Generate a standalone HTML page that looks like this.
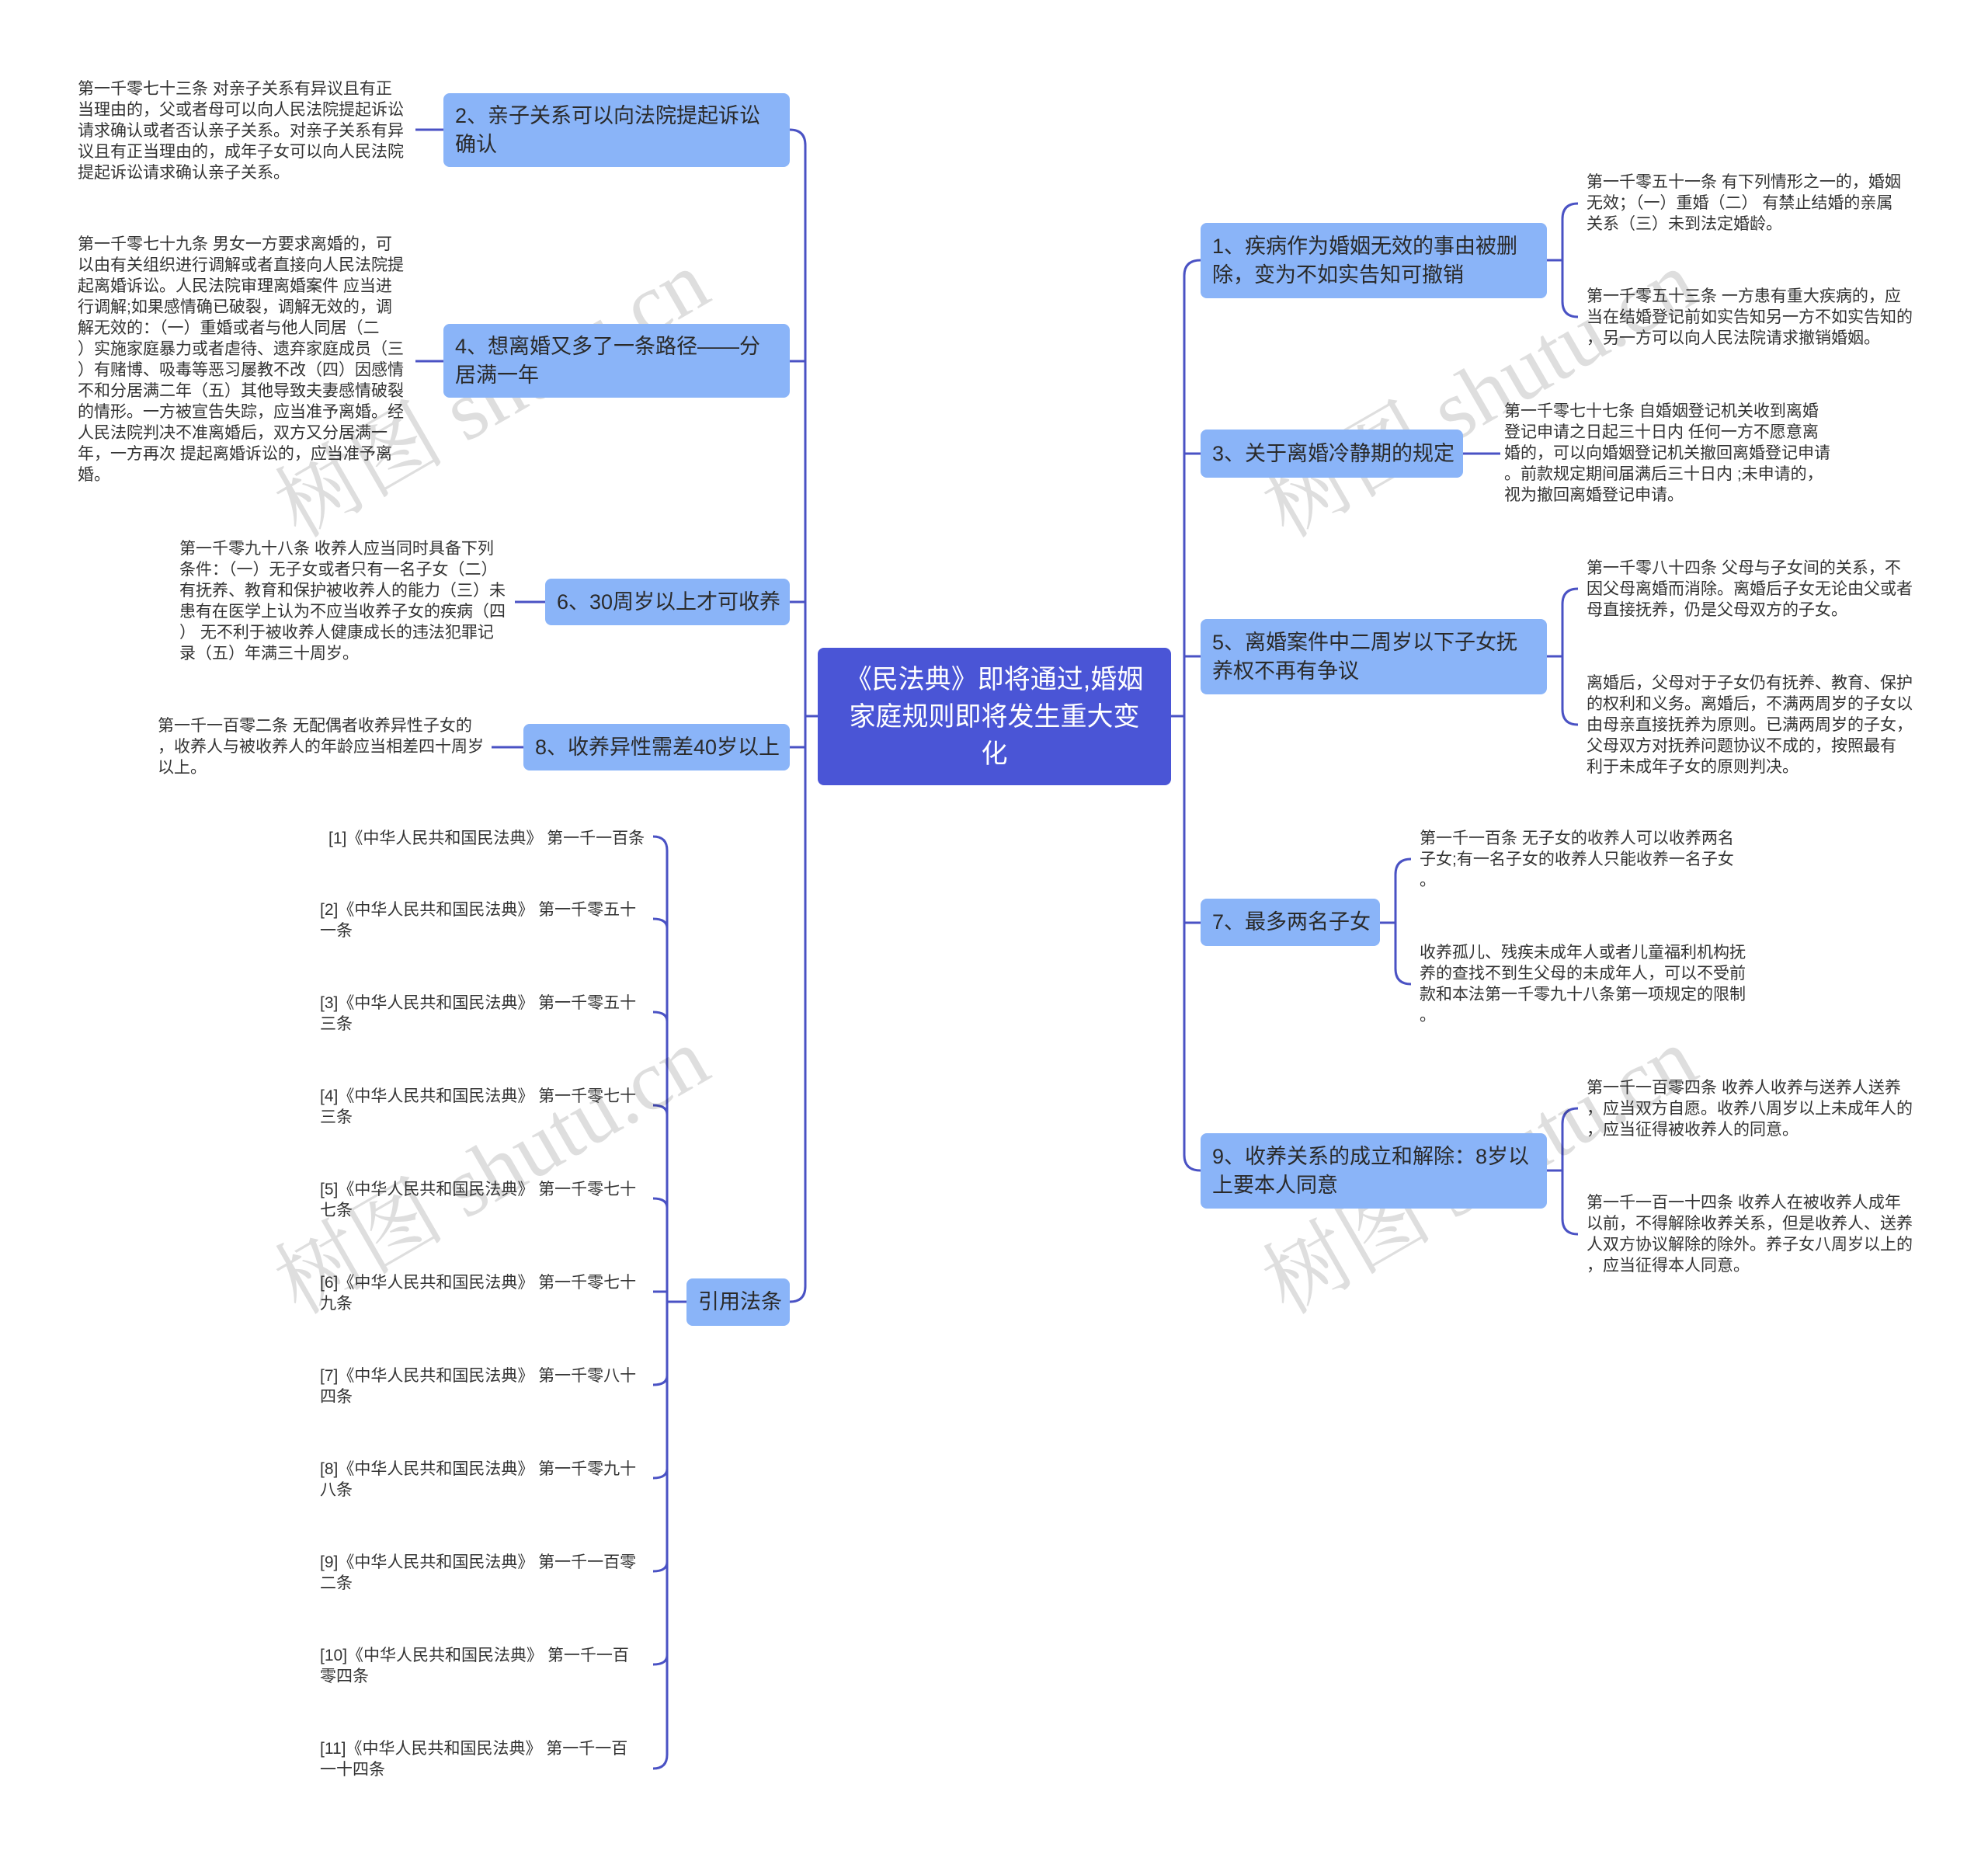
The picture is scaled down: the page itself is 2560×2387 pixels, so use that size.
<!DOCTYPE html>
<html style="overflow:hidden;width:2560px;height:2387px"><head><meta charset="utf-8">
<style>
*{margin:0;padding:0;box-sizing:border-box}
body{width:2560px;height:2387px;background:#fff;overflow:hidden;font-family:"Liberation Sans","Noto Sans CJK SC",sans-serif;color:#2b2b2b}
#w{position:relative;width:2560px;height:2387px;overflow:hidden}
.n{position:absolute;background:#8ab4f8;border-radius:8px;font-size:27px;line-height:37px;padding:0 15px;display:flex;align-items:center;white-space:nowrap;color:#2a2a2a}
.c{position:absolute;background:#4a55d6;border-radius:8px;color:#fff;font-size:34px;line-height:48px;text-align:center;display:flex;align-items:center;justify-content:center}
.l{position:absolute;font-size:21px;line-height:27px;white-space:nowrap;color:#333}
.r{position:absolute;font-size:21px;line-height:27px;white-space:nowrap;color:#333;left:412px}
.wm{position:absolute;font-family:"Liberation Serif","Noto Serif CJK SC",serif;font-size:110px;color:rgba(0,0,0,0.13);transform:rotate(-30deg);white-space:nowrap}
</style></head><body><div id="w">
<svg width="2560" height="2387" style="position:absolute;left:0;top:0" fill="none" stroke="#4a52c4" stroke-width="3">
<path d="M1053,922 H1037"/>
<path d="M1017,167 Q1037,167 1037,187 V1656 Q1037,1676 1017,1676"/>
<path d="M1017,465 H1037 M1017,775 H1037 M1017,962 H1037"/>
<path d="M1508,922 H1525"/>
<path d="M1546,335 Q1525,335 1525,355 V1487 Q1525,1507 1546,1507"/>
<path d="M1525,584 H1546 M1525,845 H1546 M1525,1188 H1546"/>
<path d="M535,167 H571 M535,465 H571 M663,775 H702 M633,962 H674"/>
<path d="M1884,584 H1932"/>
<path d="M1992,335 H2012 M2032,262 Q2012,262 2012,282 V388 Q2012,408 2032,408"/>
<path d="M1992,845 H2012 M2032,758 Q2012,758 2012,778 V913 Q2012,933 2032,933"/>
<path d="M1777,1188 H1797 M1817,1106 Q1797,1106 1797,1126 V1247 Q1797,1267 1817,1267"/>
<path d="M1992,1507 H2012 M2032,1427 Q2012,1427 2012,1447 V1569 Q2012,1589 2032,1589"/>
<path d="M884,1676 H859"/>
<path d="M841,1077 Q859,1077 859,1095 V2259 Q859,2277 841,2277"/>
<path d="M841,1183 Q859,1183 859,1195 M841,1303 Q859,1303 859,1315 M841,1423 Q859,1423 859,1435 M841,1543 Q859,1543 859,1555 M841,1663 H859 M841,1783 Q859,1783 859,1771 M841,1903 Q859,1903 859,1891 M841,2023 Q859,2023 859,2011 M841,2143 Q859,2143 859,2131"/>
</svg>

<div class="wm" style="left:320px;top:420px">树图 shutu.cn</div>
<div class="wm" style="left:320px;top:1420px">树图 shutu.cn</div>
<div class="wm" style="left:1592px;top:420px">树图 shutu.cn</div>
<div class="wm" style="left:1592px;top:1420px">树图 shutu.cn</div>

<div class="c" style="left:1053px;top:834px;width:455px;height:177px">《民法典》即将通过,婚姻<br>家庭规则即将发生重大变<br>化</div>

<div class="n" style="left:571px;top:120px;width:446px;height:95px">2、亲子关系可以向法院提起诉讼<br>确认</div>
<div class="n" style="left:571px;top:417px;width:446px;height:95px">4、想离婚又多了一条路径——分<br>居满一年</div>
<div class="n" style="left:702px;top:745px;width:315px;height:60px">6、30周岁以上才可收养</div>
<div class="n" style="left:674px;top:932px;width:343px;height:60px">8、收养异性需差40岁以上</div>
<div class="n" style="left:884px;top:1646px;width:133px;height:61px">引用法条</div>

<div class="n" style="left:1546px;top:287px;width:446px;height:97px">1、疾病作为婚姻无效的事由被删<br>除，变为不如实告知可撤销</div>
<div class="n" style="left:1546px;top:553px;width:338px;height:62px">3、关于离婚冷静期的规定</div>
<div class="n" style="left:1546px;top:797px;width:446px;height:97px">5、离婚案件中二周岁以下子女抚<br>养权不再有争议</div>
<div class="n" style="left:1546px;top:1157px;width:231px;height:61px">7、最多两名子女</div>
<div class="n" style="left:1546px;top:1459px;width:446px;height:97px">9、收养关系的成立和解除：8岁以<br>上要本人同意</div>

<div class="l" style="left:100px;top:101px">第一千零七十三条 对亲子关系有异议且有正<br>当理由的，父或者母可以向人民法院提起诉讼<br>请求确认或者否认亲子关系。对亲子关系有异<br>议且有正当理由的，成年子女可以向人民法院<br>提起诉讼请求确认亲子关系。</div>
<div class="l" style="left:100px;top:301px">第一千零七十九条 男女一方要求离婚的，可<br>以由有关组织进行调解或者直接向人民法院提<br>起离婚诉讼。人民法院审理离婚案件 应当进<br>行调解;如果感情确已破裂，调解无效的，调<br>解无效的：（一）重婚或者与他人同居（二<br>）实施家庭暴力或者虐待、遗弃家庭成员（三<br>）有赌博、吸毒等恶习屡教不改（四）因感情<br>不和分居满二年（五）其他导致夫妻感情破裂<br>的情形。一方被宣告失踪，应当准予离婚。经<br>人民法院判决不准离婚后，双方又分居满一<br>年，一方再次 提起离婚诉讼的，应当准予离<br>婚。</div>
<div class="l" style="left:231px;top:693px">第一千零九十八条 收养人应当同时具备下列<br>条件：（一）无子女或者只有一名子女（二）<br>有抚养、教育和保护被收养人的能力（三）未<br>患有在医学上认为不应当收养子女的疾病（四<br>） 无不利于被收养人健康成长的违法犯罪记<br>录（五）年满三十周岁。</div>
<div class="l" style="left:203px;top:921px">第一千一百零二条 无配偶者收养异性子女的<br>，收养人与被收养人的年龄应当相差四十周岁<br>以上。</div>

<div class="l" style="left:2043px;top:221px">第一千零五十一条 有下列情形之一的，婚姻<br>无效；（一）重婚（二） 有禁止结婚的亲属<br>关系（三）未到法定婚龄。</div>
<div class="l" style="left:2043px;top:368px">第一千零五十三条 一方患有重大疾病的，应<br>当在结婚登记前如实告知另一方不如实告知的<br>，另一方可以向人民法院请求撤销婚姻。</div>
<div class="l" style="left:1937px;top:516px">第一千零七十七条 自婚姻登记机关收到离婚<br>登记申请之日起三十日内 任何一方不愿意离<br>婚的，可以向婚姻登记机关撤回离婚登记申请<br>。前款规定期间届满后三十日内 ;未申请的，<br>视为撤回离婚登记申请。</div>
<div class="l" style="left:2043px;top:718px">第一千零八十四条 父母与子女间的关系，不<br>因父母离婚而消除。离婚后子女无论由父或者<br>母直接抚养，仍是父母双方的子女。</div>
<div class="l" style="left:2043px;top:866px">离婚后，父母对于子女仍有抚养、教育、保护<br>的权利和义务。离婚后，不满两周岁的子女以<br>由母亲直接抚养为原则。已满两周岁的子女，<br>父母双方对抚养问题协议不成的，按照最有<br>利于未成年子女的原则判决。</div>
<div class="l" style="left:1828px;top:1066px">第一千一百条 无子女的收养人可以收养两名<br>子女;有一名子女的收养人只能收养一名子女<br>。</div>
<div class="l" style="left:1828px;top:1213px">收养孤儿、残疾未成年人或者儿童福利机构抚<br>养的查找不到生父母的未成年人，可以不受前<br>款和本法第一千零九十八条第一项规定的限制<br>。</div>
<div class="l" style="left:2043px;top:1387px">第一千一百零四条 收养人收养与送养人送养<br>，应当双方自愿。收养八周岁以上未成年人的<br>，应当征得被收养人的同意。</div>
<div class="l" style="left:2043px;top:1535px">第一千一百一十四条 收养人在被收养人成年<br>以前，不得解除收养关系，但是收养人、送养<br>人双方协议解除的除外。养子女八周岁以上的<br>，应当征得本人同意。</div>

<div class="r" style="left:423px;top:1066px">[1]《中华人民共和国民法典》 第一千一百条</div>
<div class="r" style="top:1158px">[2]《中华人民共和国民法典》 第一千零五十<br>一条</div>
<div class="r" style="top:1278px">[3]《中华人民共和国民法典》 第一千零五十<br>三条</div>
<div class="r" style="top:1398px">[4]《中华人民共和国民法典》 第一千零七十<br>三条</div>
<div class="r" style="top:1518px">[5]《中华人民共和国民法典》 第一千零七十<br>七条</div>
<div class="r" style="top:1638px">[6]《中华人民共和国民法典》 第一千零七十<br>九条</div>
<div class="r" style="top:1758px">[7]《中华人民共和国民法典》 第一千零八十<br>四条</div>
<div class="r" style="top:1878px">[8]《中华人民共和国民法典》 第一千零九十<br>八条</div>
<div class="r" style="top:1998px">[9]《中华人民共和国民法典》 第一千一百零<br>二条</div>
<div class="r" style="top:2118px">[10]《中华人民共和国民法典》 第一千一百<br>零四条</div>
<div class="r" style="top:2238px">[11]《中华人民共和国民法典》 第一千一百<br>一十四条</div>
</div></body></html>
